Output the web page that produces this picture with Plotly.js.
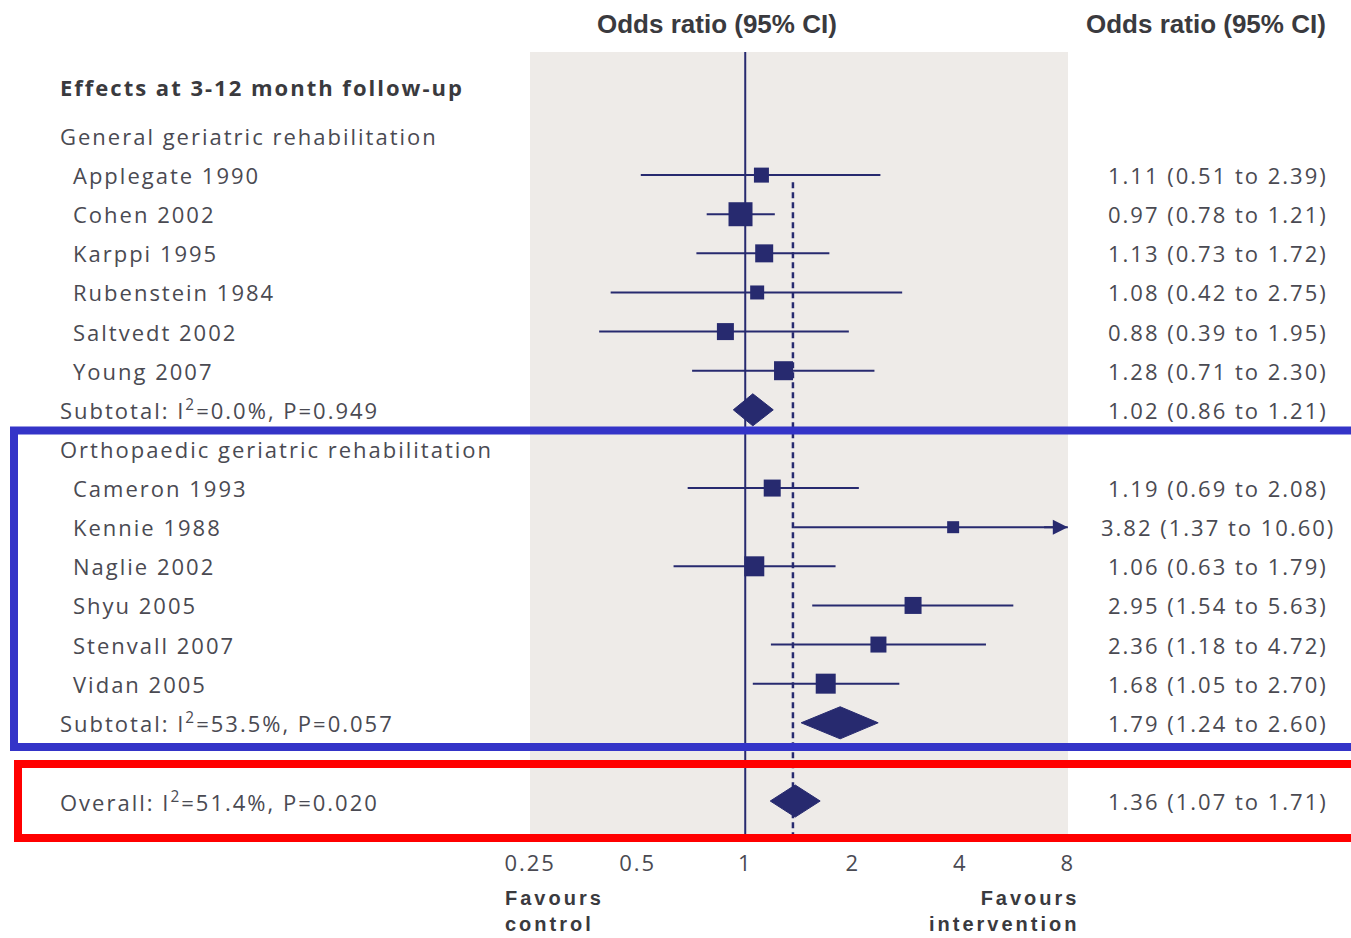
<!DOCTYPE html>
<html>
<head>
<meta charset="utf-8">
<script src="https://cdn.plot.ly/plotly-3.0.1.min.js"></script>
<style>
html,body{margin:0;padding:0;background:#fff}
#chart{width:1351px;height:938px}
text[style*="Open Sans"]{letter-spacing:2px}
text[style*="Arial Narrow"]{letter-spacing:3px}
</style>
</head>
<body>
<div id="chart"></div>
<script>
// ---- data ----
var studyNames = ["Applegate 1990","Cohen 2002","Karppi 1995","Rubenstein 1984","Saltvedt 2002","Young 2007",
                  "Cameron 1993","Kennie 1988","Naglie 2002","Shyu 2005","Stenvall 2007","Vidan 2005"];
var studyOR = [1.11,0.97,1.13,1.08,0.88,1.28,1.19,3.82,1.06,2.95,2.36,1.68];
var studyLo = [0.51,0.78,0.73,0.42,0.39,0.71,0.69,1.37,0.63,1.54,1.18,1.05];
var studyHi = [2.39,1.21,1.72,2.75,1.95,2.30,2.08,10.60,1.79,5.63,4.72,2.70];
var studyLabels = ["1.11 (0.51 to 2.39)","0.97 (0.78 to 1.21)","1.13 (0.73 to 1.72)","1.08 (0.42 to 2.75)",
                   "0.88 (0.39 to 1.95)","1.28 (0.71 to 2.30)","1.19 (0.69 to 2.08)","3.82 (1.37 to 10.60)",
                   "1.06 (0.63 to 1.79)","2.95 (1.54 to 5.63)","2.36 (1.18 to 4.72)","1.68 (1.05 to 2.70)"];
var studyWeight = [15,24,18,14,17,19,17,12,20,17,16,20]; // box size
var studyRows = [2,3,4,5,6,7,10,11,12,13,14,15];

var summaryNames = ["Subtotal: I<sup>2</sup>=0.0%, P=0.949","Subtotal: I<sup>2</sup>=53.5%, P=0.057","Overall: I<sup>2</sup>=51.4%, P=0.020"];
var summaryOR = [1.02,1.79,1.36];
var summaryLabels = ["1.02 (0.86 to 1.21)","1.79 (1.24 to 2.60)","1.36 (1.07 to 1.71)"];
// diamond extents as drawn in the picture
var diamondLo = [0.926,1.434,1.175];
var diamondMid = [1.05,1.844,1.38];
var diamondHi = [1.198,2.356,1.621];
var summaryRows = [8,16,18];

var headerLabels = ["Effects at 3-12 month follow-up","General geriatric rehabilitation","Orthopaedic geriatric rehabilitation"];
var headerRows = [-0.25,1,9];

var tickVals = [0.25,0.5,1,2,4,8];
var tickText = ["0.25","0.5","1","2","4","8"];
var overallOR = 1.36;

// ---- geometry ----
var X_MIN = 0.25, X_MAX = 8;
var Y_TOP = -1.147, Y_BOT = 18.945;
var navy = "#272a6f";
var textCol = "#4a4a52";
var FONT = "Open Sans, Noto Sans, sans-serif";
var NARROW = "Liberation Sans Narrow, Liberation Sans, sans-serif";
var NARROW2 = "Liberation Sans Narrow, Arial Narrow, sans-serif";
var L = 530, R = 1068, T = 52, B = 838;
function px2paperX(p){ return (p - L) / (R - L); }
function px2paperY(p){ return (B - p) / (B - T); }

var traces = [];

// vertical line of no effect
traces.push({x:[1,1], y:[Y_TOP, Y_BOT], mode:"lines", line:{color:navy, width:2}, hoverinfo:"skip", showlegend:false});
// dashed overall line
traces.push({x:[overallOR,overallOR], y:[2.18, Y_BOT], mode:"lines", line:{color:navy, width:2.5, dash:"6px,4px"}, hoverinfo:"skip", showlegend:false});

// CI lines
var cx = [], cy = [];
for (var i = 0; i < studyOR.length; i++) {
  cx.push(studyLo[i], Math.min(studyHi[i], X_MAX), null);
  cy.push(studyRows[i], studyRows[i], null);
}
traces.push({x:cx, y:cy, mode:"lines", line:{color:navy, width:2}, hoverinfo:"skip", showlegend:false});

// squares
traces.push({x:studyOR, y:studyRows, mode:"markers", marker:{symbol:"square", size:studyWeight, color:navy, opacity:1, line:{width:0}}, hoverinfo:"skip", showlegend:false});

// diamonds
var H = 0.41;
for (var j = 0; j < summaryOR.length; j++) {
  var r = summaryRows[j];
  traces.push({x:[diamondLo[j], diamondMid[j], diamondHi[j], diamondMid[j], diamondLo[j]],
               y:[r, r - H, r, r + H, r], mode:"lines", fill:"toself", fillcolor:navy,
               line:{color:navy, width:1}, hoverinfo:"skip", showlegend:false});
}

var annotations = [];
function ann(o){ annotations.push(Object.assign({showarrow:false, xref:"paper", yref:"y"}, o)); }

// headers
for (var h = 0; h < headerLabels.length; h++) {
  ann({x:px2paperX(58), y:headerRows[h], xanchor:"left", yanchor:"middle", text: h === 0 ? "<b>"+headerLabels[h]+"</b>" : headerLabels[h],
       font:{family:FONT, size:22, color: h === 0 ? "#3a3a3e" : textCol}});
}
// study names and values
for (var k = 0; k < studyNames.length; k++) {
  ann({x:px2paperX(71), y:studyRows[k], xanchor:"left", yanchor:"middle", text:studyNames[k], font:{family:FONT, size:22, color:textCol}});
  ann({x:px2paperX(1218), y:studyRows[k], xanchor:"center", yanchor:"middle", text:studyLabels[k], font:{family:FONT, size:22, color:textCol}});
}
for (var m = 0; m < summaryNames.length; m++) {
  ann({x:px2paperX(58), y:summaryRows[m], xanchor:"left", yanchor:"middle", text:summaryNames[m], font:{family:FONT, size:22, color:textCol}});
  ann({x:px2paperX(1218), y:summaryRows[m], xanchor:"center", yanchor:"middle", text:summaryLabels[m], font:{family:FONT, size:22, color:textCol}});
}
// arrows for CIs beyond axis
for (var a = 0; a < studyHi.length; a++) {
  if (studyHi[a] > X_MAX) {
    annotations.push({xref:"x", yref:"y", axref:"x", ayref:"y", x:Math.log10(X_MAX), y:studyRows[a],
      ax:Math.log10(X_MAX*0.85), ay:studyRows[a], text:"", showarrow:true, arrowhead:2, arrowsize:1.5,
      arrowwidth:2, arrowcolor:navy, standoff:0, startstandoff:0});
  }
}
// column headers
annotations.push({xref:"paper", yref:"paper", x:px2paperX(717), y:px2paperY(24), xanchor:"center", yanchor:"middle",
  text:"<b>Odds ratio (95% CI)</b>", showarrow:false, font:{family:NARROW, size:26, color:"#3a3a3e"}});
annotations.push({xref:"paper", yref:"paper", x:px2paperX(1206), y:px2paperY(24), xanchor:"center", yanchor:"middle",
  text:"<b>Odds ratio (95% CI)</b>", showarrow:false, font:{family:NARROW, size:26, color:"#3a3a3e"}});
// favours
annotations.push({xref:"paper", yref:"paper", x:px2paperX(504), y:px2paperY(886), xanchor:"left", yanchor:"top", align:"left",
  text:"<b>Favours<br>control</b>", showarrow:false, borderpad:0, font:{family:NARROW2, size:20, color:"#3a3a3e"}});
annotations.push({xref:"paper", yref:"paper", x:px2paperX(1080), y:px2paperY(886), xanchor:"right", yanchor:"top", align:"right",
  text:"<b>Favours<br>intervention</b>", showarrow:false, borderpad:0, font:{family:NARROW2, size:20, color:"#3a3a3e"}});

var shapes = [
  {type:"rect", xref:"paper", yref:"paper", x0:px2paperX(14), x1:px2paperX(1380), y0:px2paperY(430.5), y1:px2paperY(747),
   line:{color:"#3434c8", width:8}, fillcolor:"rgba(0,0,0,0)", layer:"above"},
  {type:"rect", xref:"paper", yref:"paper", x0:px2paperX(18), x1:px2paperX(1380), y0:px2paperY(764), y1:px2paperY(838),
   line:{color:"#ff0000", width:8}, fillcolor:"rgba(0,0,0,0)", layer:"above"}
];

var layout = {
  width:1351, height:938, autosize:false,
  margin:{l:L, r:1351-R, t:T, b:938-B, pad:0},
  paper_bgcolor:"#ffffff", plot_bgcolor:"#eeebe8",
  showlegend:false,
  xaxis:{type:"log", range:[Math.log10(X_MIN)-0.0005, Math.log10(X_MAX)+0.0005], tickvals:tickVals, ticktext:tickText,
         ticks:"", showgrid:false, zeroline:false, showline:false, ticklabelstandoff:10,
         tickfont:{family:FONT, size:22, color:textCol}, fixedrange:true},
  yaxis:{range:[Y_BOT, Y_TOP], showticklabels:false, ticks:"", showgrid:false, zeroline:false, showline:false, fixedrange:true},
  annotations:annotations,
  shapes:shapes
};

Plotly.newPlot("chart", traces, layout, {staticPlot:true, displayModeBar:false});
</script>
</body>
</html>
